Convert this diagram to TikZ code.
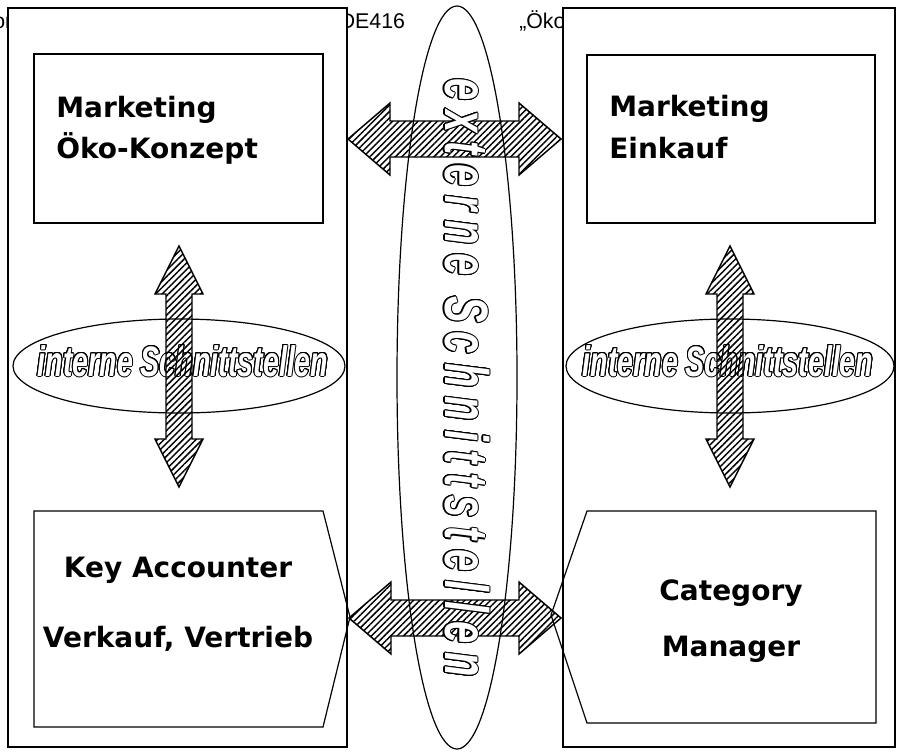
\documentclass[tikz,border=0pt]{standalone}
\usepackage{fontspec}
\setmainfont{Liberation Sans}
\newfontfamily\boxfont{DejaVu Sans}
\newfontfamily\hollowfont{Liberation Sans}[FakeStretch=0.67]
\newfontfamily\spreadfont{Liberation Sans}[FakeStretch=0.65,LetterSpace=15]
\usetikzlibrary{patterns.meta}

\tikzset{
  pane/.style={draw,line width=2.2pt,fill=white},
  innerbox/.style={draw,line width=1.4pt},
  tagbox/.style={draw,line width=0.9pt},
  boxtext/.style={inner sep=0pt,font=\boxfont\bfseries\fontsize{21}{25}\selectfont},
  headtext/.style={inner sep=0pt,anchor=base west,font=\fontsize{16}{19}\selectfont},
  hatched/.style={draw,line width=1.1pt,line join=miter,
    pattern={Lines[angle=45,distance=3.4pt,line width=1.1pt]}},
  introtext/.style={inner sep=0pt,anchor=base,
    font=\hollowfont\bfseries\itshape\fontsize{32}{36}\selectfont},
  extratext/.style={inner sep=0pt,anchor=base,rotate=-90,
    font=\spreadfont\bfseries\itshape\fontsize{46}{50}\selectfont}
}

\begin{document}
\begin{tikzpicture}[x=0.75pt,y=-0.75pt]
  \fill[white] (0,0) rectangle (899,751);
  \useasboundingbox (0,0) rectangle (899,751);

  % page header, mostly hidden behind the two panes
  \node[headtext] (hdA) at (-7,28) {or};
  \node[headtext] (hdB) at (339.5,28) {DE416};
  \node[headtext] (hdC) at (519,28) {„Öko};

  % the two companies
  \draw[pane] (8,8) rectangle (347,747);
  \draw[pane] (563,8) rectangle (895,747);

  \draw[innerbox] (34,54) rectangle (323,223);
  \node[boxtext,anchor=base west] (mkA) at (56,117) {Marketing};
  \node[boxtext,anchor=base west] (mkB) at (56,158) {Öko-Konzept};

  \draw[innerbox] (587,55) rectangle (875,223);
  \node[boxtext,anchor=base west] (ekA) at (609,116) {Marketing};
  \node[boxtext,anchor=base west] (ekB) at (609,158) {Einkauf};

  \draw[tagbox] (34,511) -- (323,511) -- (350,617) -- (323,727) -- (34,727) -- cycle;
  \node[boxtext,anchor=base] (kaA) at (178,577) {Key Accounter};
  \node[boxtext,anchor=base] (kaB) at (178,647) {Verkauf, Vertrieb};

  \draw[tagbox] (587,511) -- (876,511) -- (876,723) -- (587,723) -- (551,615) -- cycle;
  \node[boxtext,anchor=base] (cmA) at (731,600) {Category};
  \node[boxtext,anchor=base] (cmB) at (731,656) {Manager};

  % external links
  \coordinate (topW) at (348,139);
  \coordinate (topE) at (561,139);
  \draw[hatched] (topW) -- ++(42,-36) -- ++(0,18) -- ++(129,0) -- ++(0,-18) -- (topE)
    -- ++(-42,36) -- ++(0,-18) -- ++(-129,0) -- ++(0,18) -- cycle;
  \coordinate (botW) at (349,618);
  \coordinate (botE) at (561,618);
  \draw[hatched] (botW) -- ++(42,-36) -- ++(0,18) -- ++(128,0) -- ++(0,-18) -- (botE)
    -- ++(-42,36) -- ++(0,-18) -- ++(-128,0) -- ++(0,18) -- cycle;

  \draw[line width=0.9pt] (457,377.5) ellipse [x radius=60, y radius=371.5];
  \draw[line width=0.9pt] (179,366) ellipse [x radius=166, y radius=47];
  \draw[line width=0.9pt] (730,366) ellipse [x radius=164, y radius=47];

  \foreach \a [count=\i] in {0,22.5,...,337.5}
    \node[extratext,text=black,shift={(\a:0.8pt)}] (extRing\i) at (445,378) {externe Schnittstellen};
  \node[extratext,text=white] (ext) at (445,378) {externe Schnittstellen};

  % internal links
  \foreach \a [count=\i] in {0,22.5,...,337.5} {
    \node[introtext,text=black,shift={(\a:0.75pt)}] (intLRing\i) at (183,376) {interne Schnittstellen};
    \node[introtext,text=black,shift={(\a:0.75pt)}] (intRRing\i) at (728,376) {interne Schnittstellen};
  }
  \node[introtext,text=white] (intL) at (183,376) {interne Schnittstellen};
  \node[introtext,text=white] (intR) at (728,376) {interne Schnittstellen};

  \coordinate (ownLN) at (179,246);
  \coordinate (ownLS) at (179,487);
  \draw[hatched] (ownLN) -- ++(24,48) -- ++(-11,0) -- ++(0,145) -- ++(11,0) -- (ownLS)
    -- ++(-24,-48) -- ++(11,0) -- ++(0,-145) -- ++(-11,0) -- cycle;
  \coordinate (ownRN) at (730,246);
  \coordinate (ownRS) at (730,487);
  \draw[hatched] (ownRN) -- ++(24,48) -- ++(-11,0) -- ++(0,145) -- ++(11,0) -- (ownRS)
    -- ++(-24,-48) -- ++(11,0) -- ++(0,-145) -- ++(-11,0) -- cycle;
\end{tikzpicture}
\end{document}
